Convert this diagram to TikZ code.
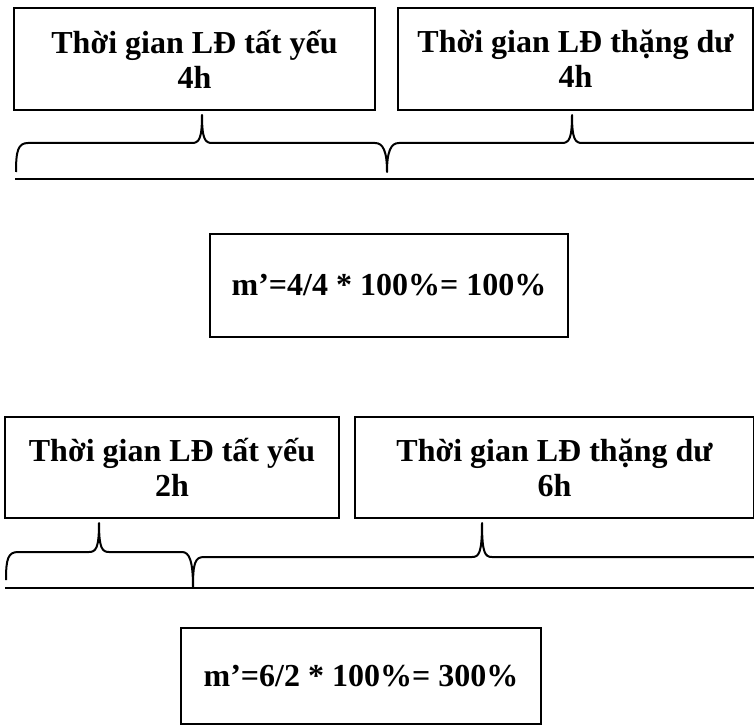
\documentclass[tikz,border=0pt]{standalone}
\usepackage{fontspec}
\setmainfont{Liberation Serif}
\begin{document}
\begin{tikzpicture}[x=1pt,y=-1pt,
  box/.style={draw, line width=2pt, inner sep=0pt, align=center,
    font=\fontsize{32}{35}\selectfont\bfseries},
  bracepath/.style={line width=2pt, line join=round},
  rule/.style={line width=2pt},
  thinrule/.style={line width=1.3pt}]
\useasboundingbox (0,0) rectangle (754,727);

% ---- first case: 4h + 4h ----
\node[box, minimum width=361pt, minimum height=102pt] (nec1) at (194.5,59)
  {Thời gian LĐ tất yếu\\4h};
\node[box, minimum width=355pt, minimum height=102pt] (sur1) at (575.5,59)
  {Thời gian LĐ thặng dư\\4h};

\draw[bracepath] (16,172) .. controls (16,151) and (18,143) .. (28,143)
  -- (192,143) .. controls (199,143) and (202,139) .. (202,115)
  .. controls (202,139) and (205,143) .. (212,143)
  -- (375,143) .. controls (383,143) and (387,151) .. (387,172)
  .. controls (387,151) and (391,143) .. (399,143)
  -- (562,143) .. controls (569,143) and (572,139) .. (572,115)
  .. controls (572,139) and (575,143) .. (582,143)
  -- (754,143);
\coordinate (dayL1) at (15,179);
\coordinate (dayR1) at (754,179);
\draw[rule] (dayL1) -- (dayR1);

\node[box, minimum width=358pt, minimum height=103pt] (rate1) at (389,285.5)
  {m’=4/4 * 100\%= 100\%};

% ---- second case: 2h + 6h ----
\node[box, minimum width=334pt, minimum height=101pt] (nec2) at (172,467.5)
  {Thời gian LĐ tất yếu\\2h};
\node[box, minimum width=399pt, minimum height=101pt] (sur2) at (554.5,467.5)
  {Thời gian LĐ thặng dư\\6h};

\draw[bracepath] (6,580) .. controls (6,559) and (8,552) .. (18,552)
  -- (89,552) .. controls (96,552) and (99,548) .. (99,523)
  .. controls (99,548) and (102,552) .. (109,552)
  -- (182,552) .. controls (189,552) and (193,560) .. (193,587)
  .. controls (193,563) and (195,557) .. (204,557)
  -- (472,557) .. controls (479,557) and (482,553) .. (482,523)
  .. controls (482,553) and (485,557) .. (492,557)
  -- (754,557);
\coordinate (dayL2) at (5,588);
\coordinate (dayR2) at (754,588);
\draw[thinrule] (dayL2) -- (dayR2);

\node[box, minimum width=360pt, minimum height=96pt] (rate2) at (361,676)
  {m’=6/2 * 100\%= 300\%};
\end{tikzpicture}
\end{document}
